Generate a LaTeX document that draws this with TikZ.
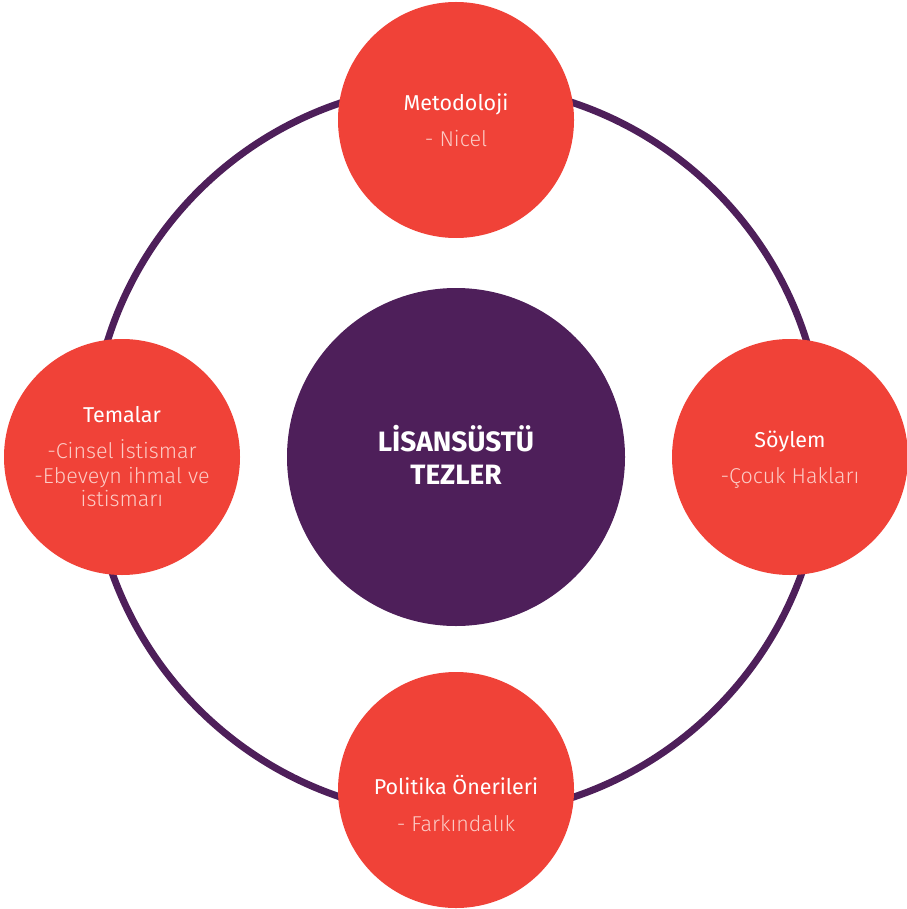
\documentclass[tikz,border=0pt]{standalone}
\usepackage{fontspec}
\setmainfont{Fira Sans}
\newfontfamily\lightf{Fira Sans Light}
\definecolor{redc}{HTML}{F04238}
\definecolor{purp}{HTML}{4E1F5A}
\definecolor{pinkt}{HTML}{FCCBC5}
\begin{document}
\begin{tikzpicture}[x=1pt,y=-1pt,
  redball/.style={circle,fill=redc,draw=none,inner sep=0pt,minimum size=236pt},
  hubball/.style={circle,fill=purp,draw=none,inner sep=0pt,minimum size=338pt},
  ringline/.style={draw=purp,line width=7pt},
  headtxt/.style={anchor=base,text=white,font=\fontsize{21.5}{24}\selectfont,inner sep=0pt},
  subtxt/.style={anchor=base,text=pinkt,font=\lightf\fontsize{21.5}{24}\selectfont,inner sep=0pt},
  hubtxt/.style={anchor=base,text=white,font=\bfseries\fontsize{28}{32}\selectfont,inner sep=0pt}]
\useasboundingbox (0,0) rectangle (906,909);
\coordinate (ringc) at (457,450);
\draw[ringline] (ringc) circle[radius=366];
\node[hubball] (hub) at (456,457) {};
\node[redball] (top) at (456,120) {};
\node[redball] (left) at (122,457) {};
\node[redball] (right) at (790,457) {};
\node[redball] (bottom) at (456,790) {};
% hub text
\node[hubtxt] (hub1) at (456,451) {LİSANSÜSTÜ};
\node[hubtxt] (hub2) at (456,484) {TEZLER};
% top
\node[headtxt] (toph) at (456,111) {Metodoloji};
\node[subtxt] (tops) at (456,147) {- Nicel};
% left
\node[headtxt] (lefth) at (122,422) {Temalar};
\node[subtxt] (lefts1) at (122,458) {-Cinsel İstismar};
\node[subtxt] (lefts2) at (122,483) {-Ebeveyn ihmal ve};
\node[subtxt] (lefts3) at (122,506) {istismarı};
% right
\node[headtxt] (righth) at (790,447) {Söylem};
\node[subtxt] (rights) at (790,483) {-Çocuk Hakları};
% bottom
\node[headtxt] (both) at (456,794) {Politika Önerileri};
\node[subtxt] (bots) at (456,831) {- Farkındalık};
\end{tikzpicture}
\end{document}
